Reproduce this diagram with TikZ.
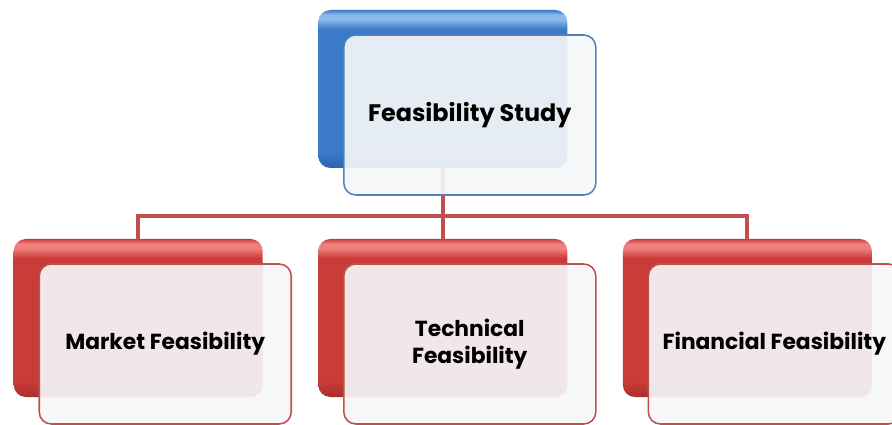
\documentclass[tikz,border=0pt]{standalone}
\usepackage{fontspec}
\setmainfont{Poppins}
\usepackage{xcolor}
\usepackage{tikz}
\usetikzlibrary{positioning, calc}

\definecolor{bluemain}{RGB}{58,122,200}
\definecolor{bluelight}{RGB}{140,185,235}
\definecolor{bluedark}{RGB}{45,100,170}
\definecolor{blueline}{RGB}{79,129,189}
\definecolor{redmain}{RGB}{202,60,57}
\definecolor{redlight}{RGB}{238,128,125}
\definecolor{reddark}{RGB}{170,45,42}
\definecolor{redline}{RGB}{192,80,77}
\definecolor{frontfill}{RGB}{245,246,247}

% glossy fill: flat body, light band just under the top edge
\pgfdeclareverticalshading{bluegloss}{100bp}{color(0bp)=(bluedark); color(25bp)=(bluedark);
    color(30bp)=(bluemain); color(69bp)=(bluemain); color(72bp)=(bluelight); color(73.5bp)=(bluelight);
    color(75bp)=(bluemain); color(100bp)=(bluemain)}
\pgfdeclareverticalshading{redgloss}{100bp}{color(0bp)=(reddark); color(25bp)=(reddark);
    color(30bp)=(redmain); color(69bp)=(redmain); color(72bp)=(redlight); color(73.5bp)=(redlight);
    color(75bp)=(redmain); color(100bp)=(redmain)}

\begin{document}
\begin{tikzpicture}[
        node distance=1.375cm,
        backbox/.style={rectangle, rounded corners=0.3cm, minimum width=6.225cm, minimum height=3.95cm},
        blueback/.style={backbox, shading=bluegloss},
        redback/.style={backbox, shading=redgloss},
        frontbox/.style={rectangle, rounded corners=0.3cm, minimum width=6.3cm, minimum height=4cm,
            fill=frontfill, fill opacity=0.92, text opacity=1, line width=1.1pt,
            align=center, font=\bfseries\fontsize{15.5}{19}\selectfont},
        link/.style={draw=redline, line width=0.1cm}
    ]
        \useasboundingbox (0,0) rectangle (22.3,-10.625);

        % Back boxes
        \node[blueback] (studyback) at (11.07,-2.225) {};
        \node[redback] (techback) at (11.07,-7.95) {};
        \node[redback, left=of techback] (marketback) {};
        \node[redback, right=of techback] (financeback) {};

        % Tree connectors
        \draw[link] (studyback.south) -- ++(0,-1.2) coordinate (split) -| (marketback.north);
        \draw[link] (split) -- (techback.north);
        \draw[link] (split) -| (financeback.north);

        % Front boxes with the labels
        \node[frontbox, draw=blueline, font=\bfseries\fontsize{17}{20}\selectfont] (study)
            at ($(studyback)+(0.675,-0.65)$) {Feasibility Study};
        \node[frontbox, draw=redline] (market) at ($(marketback)+(0.675,-0.65)$) {Market Feasibility};
        \node[frontbox, draw=redline] (tech) at ($(techback)+(0.675,-0.65)$) {Technical\\Feasibility};
        \node[frontbox, draw=redline] (finance) at ($(financeback)+(0.675,-0.65)$) {Financial Feasibility};
    \end{tikzpicture}
\end{document}
